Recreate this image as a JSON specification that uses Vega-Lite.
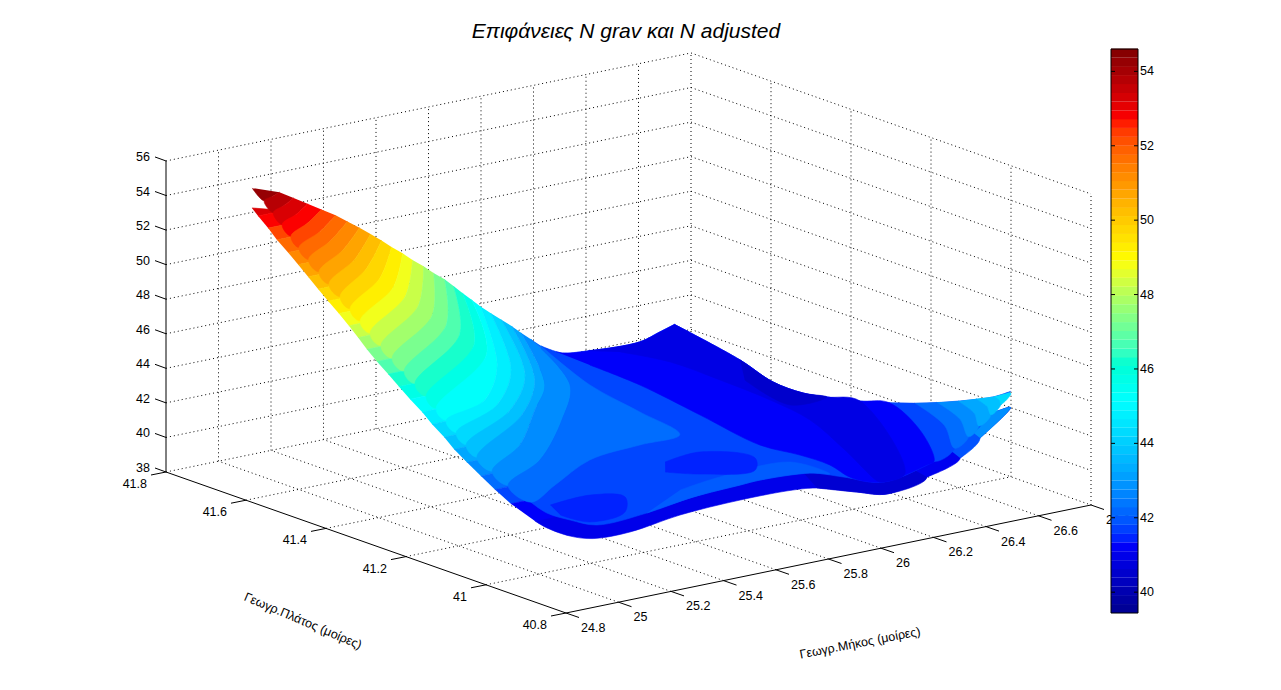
{"$schema":"https://vega.github.io/schema/vega-lite/v6.json","width":1281,"height":690,"padding":0,"autosize":{"type":"fit","contains":"padding"},"background":"white","config":{"view":{"stroke":null},"text":{"font":"Liberation Sans","fontSize":12.5,"color":"black"}},
"data":{"values":[
{"k":"grid","p":"n38","i":0,"lat":41.8,"lon":24.8,"n":38},{"k":"grid","p":"n38","i":1,"lat":41.8,"lon":26.8,"n":38},{"k":"grid","p":"n38","i":2,"lat":40.8,"lon":26.8,"n":38},
{"k":"grid","p":"n40","i":0,"lat":41.8,"lon":24.8,"n":40},{"k":"grid","p":"n40","i":1,"lat":41.8,"lon":26.8,"n":40},{"k":"grid","p":"n40","i":2,"lat":40.8,"lon":26.8,"n":40},
{"k":"grid","p":"n42","i":0,"lat":41.8,"lon":24.8,"n":42},{"k":"grid","p":"n42","i":1,"lat":41.8,"lon":26.8,"n":42},{"k":"grid","p":"n42","i":2,"lat":40.8,"lon":26.8,"n":42},
{"k":"grid","p":"n44","i":0,"lat":41.8,"lon":24.8,"n":44},{"k":"grid","p":"n44","i":1,"lat":41.8,"lon":26.8,"n":44},{"k":"grid","p":"n44","i":2,"lat":40.8,"lon":26.8,"n":44},
{"k":"grid","p":"n46","i":0,"lat":41.8,"lon":24.8,"n":46},{"k":"grid","p":"n46","i":1,"lat":41.8,"lon":26.8,"n":46},{"k":"grid","p":"n46","i":2,"lat":40.8,"lon":26.8,"n":46},
{"k":"grid","p":"n48","i":0,"lat":41.8,"lon":24.8,"n":48},{"k":"grid","p":"n48","i":1,"lat":41.8,"lon":26.8,"n":48},{"k":"grid","p":"n48","i":2,"lat":40.8,"lon":26.8,"n":48},
{"k":"grid","p":"n50","i":0,"lat":41.8,"lon":24.8,"n":50},{"k":"grid","p":"n50","i":1,"lat":41.8,"lon":26.8,"n":50},{"k":"grid","p":"n50","i":2,"lat":40.8,"lon":26.8,"n":50},
{"k":"grid","p":"n52","i":0,"lat":41.8,"lon":24.8,"n":52},{"k":"grid","p":"n52","i":1,"lat":41.8,"lon":26.8,"n":52},{"k":"grid","p":"n52","i":2,"lat":40.8,"lon":26.8,"n":52},
{"k":"grid","p":"n54","i":0,"lat":41.8,"lon":24.8,"n":54},{"k":"grid","p":"n54","i":1,"lat":41.8,"lon":26.8,"n":54},{"k":"grid","p":"n54","i":2,"lat":40.8,"lon":26.8,"n":54},
{"k":"grid","p":"n56","i":0,"lat":41.8,"lon":24.8,"n":56},{"k":"grid","p":"n56","i":1,"lat":41.8,"lon":26.8,"n":56},{"k":"grid","p":"n56","i":2,"lat":40.8,"lon":26.8,"n":56},
{"k":"grid","p":"o25","i":0,"lat":40.8,"lon":25,"n":38},{"k":"grid","p":"o25","i":1,"lat":41.8,"lon":25,"n":38},{"k":"grid","p":"o25","i":2,"lat":41.8,"lon":25,"n":56},
{"k":"grid","p":"o25.2","i":0,"lat":40.8,"lon":25.2,"n":38},{"k":"grid","p":"o25.2","i":1,"lat":41.8,"lon":25.2,"n":38},{"k":"grid","p":"o25.2","i":2,"lat":41.8,"lon":25.2,"n":56},
{"k":"grid","p":"o25.4","i":0,"lat":40.8,"lon":25.4,"n":38},{"k":"grid","p":"o25.4","i":1,"lat":41.8,"lon":25.4,"n":38},{"k":"grid","p":"o25.4","i":2,"lat":41.8,"lon":25.4,"n":56},
{"k":"grid","p":"o25.6","i":0,"lat":40.8,"lon":25.6,"n":38},{"k":"grid","p":"o25.6","i":1,"lat":41.8,"lon":25.6,"n":38},{"k":"grid","p":"o25.6","i":2,"lat":41.8,"lon":25.6,"n":56},
{"k":"grid","p":"o25.8","i":0,"lat":40.8,"lon":25.8,"n":38},{"k":"grid","p":"o25.8","i":1,"lat":41.8,"lon":25.8,"n":38},{"k":"grid","p":"o25.8","i":2,"lat":41.8,"lon":25.8,"n":56},
{"k":"grid","p":"o26","i":0,"lat":40.8,"lon":26,"n":38},{"k":"grid","p":"o26","i":1,"lat":41.8,"lon":26,"n":38},{"k":"grid","p":"o26","i":2,"lat":41.8,"lon":26,"n":56},
{"k":"grid","p":"o26.2","i":0,"lat":40.8,"lon":26.2,"n":38},{"k":"grid","p":"o26.2","i":1,"lat":41.8,"lon":26.2,"n":38},{"k":"grid","p":"o26.2","i":2,"lat":41.8,"lon":26.2,"n":56},
{"k":"grid","p":"o26.4","i":0,"lat":40.8,"lon":26.4,"n":38},{"k":"grid","p":"o26.4","i":1,"lat":41.8,"lon":26.4,"n":38},{"k":"grid","p":"o26.4","i":2,"lat":41.8,"lon":26.4,"n":56},
{"k":"grid","p":"o26.6","i":0,"lat":40.8,"lon":26.6,"n":38},{"k":"grid","p":"o26.6","i":1,"lat":41.8,"lon":26.6,"n":38},{"k":"grid","p":"o26.6","i":2,"lat":41.8,"lon":26.6,"n":56},
{"k":"grid","p":"o26.8","i":0,"lat":41.8,"lon":26.8,"n":38},{"k":"grid","p":"o26.8","i":1,"lat":41.8,"lon":26.8,"n":56},
{"k":"grid","p":"a41","i":0,"lat":41,"lon":24.8,"n":38},{"k":"grid","p":"a41","i":1,"lat":41,"lon":26.8,"n":38},{"k":"grid","p":"a41","i":2,"lat":41,"lon":26.8,"n":56},
{"k":"grid","p":"a41.2","i":0,"lat":41.2,"lon":24.8,"n":38},{"k":"grid","p":"a41.2","i":1,"lat":41.2,"lon":26.8,"n":38},{"k":"grid","p":"a41.2","i":2,"lat":41.2,"lon":26.8,"n":56},
{"k":"grid","p":"a41.4","i":0,"lat":41.4,"lon":24.8,"n":38},{"k":"grid","p":"a41.4","i":1,"lat":41.4,"lon":26.8,"n":38},{"k":"grid","p":"a41.4","i":2,"lat":41.4,"lon":26.8,"n":56},
{"k":"grid","p":"a41.6","i":0,"lat":41.6,"lon":24.8,"n":38},{"k":"grid","p":"a41.6","i":1,"lat":41.6,"lon":26.8,"n":38},{"k":"grid","p":"a41.6","i":2,"lat":41.6,"lon":26.8,"n":56},
{"k":"grid","p":"a40.8","i":0,"lat":40.8,"lon":26.8,"n":38},{"k":"grid","p":"a40.8","i":1,"lat":40.8,"lon":26.8,"n":56},
{"k":"axis","p":"z","i":0,"lat":41.8,"lon":24.8,"n":38},{"k":"axis","p":"z","i":1,"lat":41.8,"lon":24.8,"n":56},
{"k":"axis","p":"la","i":0,"lat":41.8,"lon":24.8,"n":38},{"k":"axis","p":"la","i":1,"lat":40.8,"lon":24.8,"n":38},
{"k":"axis","p":"lo","i":0,"lat":40.8,"lon":24.8,"n":38},{"k":"axis","p":"lo","i":1,"lat":40.8,"lon":26.8,"n":38},
{"k":"tz","lat":41.8,"lon":24.8,"n":38,"t":"38"},{"k":"tz","lat":41.8,"lon":24.8,"n":40,"t":"40"},{"k":"tz","lat":41.8,"lon":24.8,"n":42,"t":"42"},{"k":"tz","lat":41.8,"lon":24.8,"n":44,"t":"44"},{"k":"tz","lat":41.8,"lon":24.8,"n":46,"t":"46"},{"k":"tz","lat":41.8,"lon":24.8,"n":48,"t":"48"},{"k":"tz","lat":41.8,"lon":24.8,"n":50,"t":"50"},{"k":"tz","lat":41.8,"lon":24.8,"n":52,"t":"52"},{"k":"tz","lat":41.8,"lon":24.8,"n":54,"t":"54"},{"k":"tz","lat":41.8,"lon":24.8,"n":56,"t":"56"},
{"k":"tl","lat":41.8,"lon":24.8,"n":38,"t":"41.8"},{"k":"tl","lat":41.6,"lon":24.8,"n":38,"t":"41.6"},{"k":"tl","lat":41.4,"lon":24.8,"n":38,"t":"41.4"},{"k":"tl","lat":41.2,"lon":24.8,"n":38,"t":"41.2"},{"k":"tl","lat":41,"lon":24.8,"n":38,"t":"41"},{"k":"tl","lat":40.8,"lon":24.8,"n":38,"t":"40.8"},
{"k":"to","lat":40.8,"lon":24.8,"n":38,"t":"24.8"},{"k":"to","lat":40.8,"lon":25,"n":38,"t":"25"},{"k":"to","lat":40.8,"lon":25.2,"n":38,"t":"25.2"},{"k":"to","lat":40.8,"lon":25.4,"n":38,"t":"25.4"},{"k":"to","lat":40.8,"lon":25.6,"n":38,"t":"25.6"},{"k":"to","lat":40.8,"lon":25.8,"n":38,"t":"25.8"},{"k":"to","lat":40.8,"lon":26,"n":38,"t":"26"},{"k":"to","lat":40.8,"lon":26.2,"n":38,"t":"26.2"},{"k":"to","lat":40.8,"lon":26.4,"n":38,"t":"26.4"},{"k":"to","lat":40.8,"lon":26.6,"n":38,"t":"26.6"},{"k":"to","lat":40.8,"lon":26.8,"n":38,"t":"26.8"},
{"k":"title","lat":41.8,"lon":26.8,"n":56,"t":"Επιφάνειες N grav και N adjusted"},
{"k":"tlat","lat":41.3,"lon":24.8,"n":38,"t":"Γεωγρ.Πλάτος (μοίρες)"},
{"k":"tlon","lat":40.8,"lon":25.8,"n":38,"t":"Γεωγρ.Μήκος (μοίρες)"},
{"k":"B","p":1,"v":41,"i":0,"lat":41.009,"lon":25,"n":41},{"k":"B","p":1,"v":41,"i":1,"lat":40.979,"lon":25,"n":40.84},{"k":"B","p":1,"v":41,"i":1.5,"lat":40.921,"lon":25,"n":40.84},{"k":"B","p":1,"v":41,"i":2,"lat":40.87,"lon":25.01,"n":41.08},{"k":"B","p":1,"v":41,"i":3,"lat":40.87,"lon":25.15,"n":41.02},{"k":"B","p":1,"v":41,"i":4,"lat":40.87,"lon":25.341,"n":41.41},{"k":"B","p":1,"v":41,"i":5,"lat":40.87,"lon":25.57,"n":41.56},{"k":"B","p":1,"v":41,"i":6,"lat":40.87,"lon":25.771,"n":41.51},{"k":"B","p":1,"v":41,"i":7,"lat":40.87,"lon":25.863,"n":41.34},{"k":"B","p":1,"v":41,"i":8,"lat":40.87,"lon":26.015,"n":40.63},{"k":"B","p":1,"v":41,"i":9,"lat":40.87,"lon":26.13,"n":40.16},{"k":"B","p":1,"v":41,"i":10,"lat":40.87,"lon":26.282,"n":40.67},{"k":"B","p":1,"v":41,"i":11,"lat":40.87,"lon":26.408,"n":41.37},{"k":"B","p":1,"v":41,"i":12,"lat":40.87,"lon":26.484,"n":42.29},{"k":"B","p":1,"v":41,"i":13,"lat":40.87,"lon":26.6,"n":43.7},{"k":"B","p":1,"v":41,"i":14,"lat":40.914,"lon":26.6,"n":43.08},{"k":"B","p":1,"v":41,"i":15,"lat":40.95,"lon":26.484,"n":43.1},{"k":"B","p":1,"v":41,"i":16,"lat":40.95,"lon":25.9,"n":42},{"k":"B","p":1,"v":41,"i":17,"lat":41.05,"lon":25.15,"n":42},
{"k":"B","p":2,"v":40.6,"i":0,"lat":40.87,"lon":25.863,"n":41.34},{"k":"B","p":2,"v":40.6,"i":1,"lat":40.87,"lon":26.015,"n":40.63},{"k":"B","p":2,"v":40.6,"i":2,"lat":40.87,"lon":26.13,"n":40.16},{"k":"B","p":2,"v":40.6,"i":3,"lat":40.87,"lon":26.282,"n":40.67},{"k":"B","p":2,"v":40.6,"i":4,"lat":40.95,"lon":26.2,"n":42},{"k":"B","p":2,"v":40.6,"i":5,"lat":40.95,"lon":25.9,"n":42},
{"k":"B","p":3,"v":41.1,"i":0,"lat":40.87,"lon":26.282,"n":40.67},{"k":"B","p":3,"v":41.1,"i":1,"lat":40.87,"lon":26.408,"n":41.37},{"k":"B","p":3,"v":41.1,"i":2,"lat":40.95,"lon":26.35,"n":42.3},{"k":"B","p":3,"v":41.1,"i":3,"lat":40.95,"lon":26.2,"n":42},
{"k":"B","p":4,"v":41.9,"i":0,"lat":40.87,"lon":26.408,"n":41.37},{"k":"B","p":4,"v":41.9,"i":1,"lat":40.87,"lon":26.484,"n":42.29},{"k":"B","p":4,"v":41.9,"i":2,"lat":40.95,"lon":26.484,"n":43.1},{"k":"B","p":4,"v":41.9,"i":3,"lat":40.95,"lon":26.408,"n":42.2},
{"k":"B","p":5,"v":42.8,"i":0,"lat":40.87,"lon":26.484,"n":42.29},{"k":"B","p":5,"v":42.8,"i":1,"lat":40.87,"lon":26.6,"n":43.7},{"k":"B","p":5,"v":42.8,"i":2,"lat":40.914,"lon":26.6,"n":43.08},{"k":"B","p":5,"v":42.8,"i":3,"lat":40.95,"lon":26.484,"n":43.1},
{"k":"A","n":53.5,"i":0,"lat":41.704,"lon":24.981},{"k":"A","n":53.5,"i":1,"lat":41.704,"lon":24.981},
{"k":"A","n":53,"i":0,"lat":41.701,"lon":25},{"k":"A","n":53,"i":1,"lat":41.701,"lon":25.1},
{"k":"A","n":52.5,"i":0,"lat":41.676,"lon":25},{"k":"A","n":52.5,"i":1,"lat":41.676,"lon":25.1},
{"k":"A","n":52,"i":0,"lat":41.654,"lon":25},{"k":"A","n":52,"i":1,"lat":41.654,"lon":25.1},
{"k":"A","n":51.5,"i":0,"lat":41.626,"lon":25},{"k":"A","n":51.5,"i":1,"lat":41.626,"lon":25.1},
{"k":"A","n":51,"i":0,"lat":41.601,"lon":25},{"k":"A","n":51,"i":1,"lat":41.601,"lon":25.1},
{"k":"A","n":50.5,"i":0,"lat":41.576,"lon":25},{"k":"A","n":50.5,"i":1,"lat":41.576,"lon":25.1},
{"k":"A","n":50,"i":0,"lat":41.551,"lon":25},{"k":"A","n":50,"i":1,"lat":41.551,"lon":25.1},
{"k":"A","n":49.5,"i":0,"lat":41.526,"lon":25},{"k":"A","n":49.5,"i":1,"lat":41.526,"lon":25.1},
{"k":"A","n":49,"i":0,"lat":41.499,"lon":25},{"k":"A","n":49,"i":1,"lat":41.499,"lon":25.1},
{"k":"A","n":48.5,"i":0,"lat":41.474,"lon":25},{"k":"A","n":48.5,"i":1,"lat":41.474,"lon":25.1},
{"k":"A","n":48,"i":0,"lat":41.451,"lon":25},{"k":"A","n":48,"i":1,"lat":41.451,"lon":25.1},
{"k":"A","n":47.5,"i":0,"lat":41.429,"lon":25},{"k":"A","n":47.5,"i":1,"lat":41.429,"lon":25.1},
{"k":"A","n":47,"i":0,"lat":41.404,"lon":25},{"k":"A","n":47,"i":1,"lat":41.404,"lon":25.1},
{"k":"A","n":46.5,"i":0,"lat":41.376,"lon":25},{"k":"A","n":46.5,"i":1,"lat":41.376,"lon":25.1},
{"k":"A","n":46,"i":0,"lat":41.349,"lon":25},{"k":"A","n":46,"i":1,"lat":41.349,"lon":25.1},
{"k":"A","n":45.5,"i":0,"lat":41.321,"lon":25},{"k":"A","n":45.5,"i":1,"lat":41.321,"lon":25.1},
{"k":"A","n":45,"i":0,"lat":41.291,"lon":25},{"k":"A","n":45,"i":1,"lat":41.291,"lon":25.1},
{"k":"A","n":44.5,"i":0,"lat":41.266,"lon":25},{"k":"A","n":44.5,"i":1,"lat":41.266,"lon":25.1},
{"k":"A","n":44,"i":0,"lat":41.236,"lon":25},{"k":"A","n":44,"i":1,"lat":41.236,"lon":25.1},
{"k":"A","n":43.5,"i":0,"lat":41.211,"lon":25},{"k":"A","n":43.5,"i":1,"lat":41.211,"lon":25.1},
{"k":"A","n":43,"i":0,"lat":41.179,"lon":25},{"k":"A","n":43,"i":1,"lat":41.179,"lon":25.1},
{"k":"A","n":42.5,"i":0,"lat":41.144,"lon":25},{"k":"A","n":42.5,"i":1,"lat":41.144,"lon":25.1},
{"k":"A","n":42,"i":0,"lat":41.109,"lon":25},{"k":"A","n":42,"i":1,"lat":41.109,"lon":25.1},
{"k":"A","n":41.5,"i":0,"lat":41.069,"lon":25},{"k":"A","n":41.5,"i":1,"lat":41.069,"lon":25.1},
{"k":"A","n":41,"i":0,"lat":41.009,"lon":25},{"k":"A","n":41,"i":1,"lat":41.009,"lon":25.1},
{"k":"S","p":0,"v":41.75,"i":0,"lat":41.71,"lon":26.091,"n":42},{"k":"S","p":0,"v":41.75,"i":1,"lat":41.71,"lon":26.173,"n":41.33},{"k":"S","p":0,"v":41.75,"i":2,"lat":41.71,"lon":26.269,"n":41.15},{"k":"S","p":0,"v":41.75,"i":3,"lat":41.71,"lon":26.467,"n":41.05},{"k":"S","p":0,"v":41.75,"i":4,"lat":41.71,"lon":26.543,"n":41.39},{"k":"S","p":0,"v":41.75,"i":5,"lat":41.71,"lon":26.6,"n":41.65},{"k":"S","p":0,"v":41.75,"i":5.5,"lat":41.71,"lon":26.6,"n":41.65},
{"k":"S","p":0,"v":41.75,"i":6,"lat":41.546,"lon":26.6,"n":40.93},{"k":"S","p":0,"v":41.75,"i":7,"lat":41.464,"lon":26.6,"n":40.33},{"k":"S","p":0,"v":41.75,"i":8,"lat":41.389,"lon":26.6,"n":40.3},{"k":"S","p":0,"v":41.75,"i":9,"lat":41.329,"lon":26.6,"n":40.56},{"k":"S","p":0,"v":41.75,"i":10,"lat":41.246,"lon":26.6,"n":41},{"k":"S","p":0,"v":41.75,"i":11,"lat":41.164,"lon":26.6,"n":41.56},{"k":"S","p":0,"v":41.75,"i":12,"lat":41.079,"lon":26.6,"n":42.25},{"k":"S","p":0,"v":41.75,"i":13,"lat":40.996,"lon":26.6,"n":43.05},{"k":"S","p":0,"v":41.75,"i":14,"lat":40.914,"lon":26.6,"n":43.95},{"k":"S","p":0,"v":41.75,"i":15,"lat":40.87,"lon":26.6,"n":44.63},{"k":"S","p":0,"v":41.75,"i":15.5,"lat":40.87,"lon":26.6,"n":44.63},
{"k":"S","p":0,"v":41.75,"i":16,"lat":40.87,"lon":26.533,"n":43.58},{"k":"S","p":0,"v":41.75,"i":17,"lat":40.87,"lon":26.457,"n":42.66},{"k":"S","p":0,"v":41.75,"i":18,"lat":40.87,"lon":26.37,"n":41.84},{"k":"S","p":0,"v":41.75,"i":19,"lat":40.87,"lon":26.282,"n":41.36},{"k":"S","p":0,"v":41.75,"i":20,"lat":40.87,"lon":26.114,"n":40.9},{"k":"S","p":0,"v":41.75,"i":21,"lat":40.87,"lon":25.962,"n":41.67},{"k":"S","p":0,"v":41.75,"i":22,"lat":40.87,"lon":25.836,"n":42.29},{"k":"S","p":0,"v":41.75,"i":23,"lat":40.87,"lon":25.646,"n":42.48},{"k":"S","p":0,"v":41.75,"i":24,"lat":40.87,"lon":25.57,"n":42.43},{"k":"S","p":0,"v":41.75,"i":25,"lat":40.87,"lon":25.39,"n":42.29},{"k":"S","p":0,"v":41.75,"i":26,"lat":40.87,"lon":25.215,"n":41.92},{"k":"S","p":0,"v":41.75,"i":27,"lat":40.87,"lon":25.025,"n":41.82},{"k":"S","p":0,"v":41.75,"i":27.5,"lat":40.921,"lon":25,"n":41.77},{"k":"S","p":0,"v":41.75,"i":28,"lat":40.979,"lon":25,"n":41.7},{"k":"S","p":0,"v":41.75,"i":29,"lat":41.019,"lon":25,"n":42},
{"k":"T","n":54.5,"i":0,"lat":41.716,"lon":25},{"k":"T","n":54.5,"i":9,"lat":41.716,"lon":25},
{"k":"T","n":54,"i":0,"lat":41.71,"lon":25.095},{"k":"T","n":54,"i":1,"lat":41.698,"lon":25.05},{"k":"T","n":54,"i":9,"lat":41.686,"lon":25},
{"k":"T","n":53.5,"i":0,"lat":41.71,"lon":25.149},{"k":"T","n":53.5,"i":1,"lat":41.686,"lon":25.077},{"k":"T","n":53.5,"i":9,"lat":41.663,"lon":25},
{"k":"T","n":53,"i":0,"lat":41.71,"lon":25.202},{"k":"T","n":53,"i":1,"lat":41.674,"lon":25.106},{"k":"T","n":53,"i":9,"lat":41.641,"lon":25},
{"k":"T","n":52.5,"i":0,"lat":41.71,"lon":25.255},{"k":"T","n":52.5,"i":1,"lat":41.663,"lon":25.132},{"k":"T","n":52.5,"i":9,"lat":41.619,"lon":25},
{"k":"T","n":52,"i":0,"lat":41.71,"lon":25.309},{"k":"T","n":52,"i":1,"lat":41.652,"lon":25.162},{"k":"T","n":52,"i":9,"lat":41.599,"lon":25},
{"k":"T","n":51.5,"i":0,"lat":41.71,"lon":25.354},{"k":"T","n":51.5,"i":1,"lat":41.64,"lon":25.184},{"k":"T","n":51.5,"i":9,"lat":41.575,"lon":25},
{"k":"T","n":51,"i":0,"lat":41.71,"lon":25.4},{"k":"T","n":51,"i":1,"lat":41.626,"lon":25.21},{"k":"T","n":51,"i":9,"lat":41.549,"lon":25},
{"k":"T","n":50.5,"i":0,"lat":41.71,"lon":25.442},{"k":"T","n":50.5,"i":1,"lat":41.612,"lon":25.233},{"k":"T","n":50.5,"i":9,"lat":41.524,"lon":25},
{"k":"T","n":50,"i":0,"lat":41.71,"lon":25.484},{"k":"T","n":50,"i":1,"lat":41.598,"lon":25.256},{"k":"T","n":50,"i":9,"lat":41.496,"lon":25},
{"k":"T","n":49.5,"i":0,"lat":41.71,"lon":25.522},{"k":"T","n":49.5,"i":1,"lat":41.582,"lon":25.283},{"k":"T","n":49.5,"i":9,"lat":41.471,"lon":25},
{"k":"T","n":49,"i":0,"lat":41.71,"lon":25.564},{"k":"T","n":49,"i":1,"lat":41.567,"lon":25.311},{"k":"T","n":49,"i":9,"lat":41.446,"lon":25},
{"k":"T","n":48.5,"i":0,"lat":41.71,"lon":25.602},{"k":"T","n":48.5,"i":1,"lat":41.553,"lon":25.335},{"k":"T","n":48.5,"i":9,"lat":41.421,"lon":25},
{"k":"T","n":48,"i":0,"lat":41.71,"lon":25.644},{"k":"T","n":48,"i":1,"lat":41.537,"lon":25.36},{"k":"T","n":48,"i":9,"lat":41.394,"lon":25},
{"k":"T","n":47.5,"i":0,"lat":41.71,"lon":25.682},{"k":"T","n":47.5,"i":1,"lat":41.52,"lon":25.387},{"k":"T","n":47.5,"i":9,"lat":41.366,"lon":25},
{"k":"T","n":47,"i":0,"lat":41.71,"lon":25.724},{"k":"T","n":47,"i":1,"lat":41.503,"lon":25.415},{"k":"T","n":47,"i":9,"lat":41.336,"lon":25},
{"k":"T","n":46.5,"i":0,"lat":41.71,"lon":25.758},{"k":"T","n":46.5,"i":1,"lat":41.486,"lon":25.44},{"k":"T","n":46.5,"i":9,"lat":41.309,"lon":25},
{"k":"T","n":46,"i":0,"lat":41.71,"lon":25.792},{"k":"T","n":46,"i":1,"lat":41.468,"lon":25.468},{"k":"T","n":46,"i":9,"lat":41.281,"lon":25},
{"k":"T","n":45.5,"i":0,"lat":41.71,"lon":25.827},{"k":"T","n":45.5,"i":1,"lat":41.453,"lon":25.493},{"k":"T","n":45.5,"i":9,"lat":41.256,"lon":25},
{"k":"T","n":45,"i":0,"lat":41.71,"lon":25.861},{"k":"T","n":45,"i":1,"lat":41.432,"lon":25.501},{"k":"T","n":45,"i":2,"lat":41.287,"lon":25.233},{"k":"T","n":45,"i":9,"lat":41.231,"lon":25},
{"k":"T","n":44.5,"i":0,"lat":41.71,"lon":25.899},{"k":"T","n":44.5,"i":1,"lat":41.436,"lon":25.56},{"k":"T","n":44.5,"i":2,"lat":41.292,"lon":25.287},{"k":"T","n":44.5,"i":9,"lat":41.206,"lon":25},
{"k":"T","n":44,"i":0,"lat":41.71,"lon":25.939},{"k":"T","n":44,"i":1,"lat":41.439,"lon":25.618},{"k":"T","n":44,"i":2,"lat":41.296,"lon":25.343},{"k":"T","n":44,"i":9,"lat":41.181,"lon":25},
{"k":"T","n":43.5,"i":0,"lat":41.71,"lon":25.979},{"k":"T","n":43.5,"i":1,"lat":41.447,"lon":25.667},{"k":"T","n":43.5,"i":2,"lat":41.302,"lon":25.397},{"k":"T","n":43.5,"i":9,"lat":41.154,"lon":25},
{"k":"T","n":43,"i":0,"lat":41.71,"lon":26.015},{"k":"T","n":43,"i":1,"lat":41.454,"lon":25.716},{"k":"T","n":43,"i":2,"lat":41.351,"lon":25.521},{"k":"T","n":43,"i":3,"lat":41.208,"lon":25.246},{"k":"T","n":43,"i":9,"lat":41.116,"lon":25},
{"k":"T","n":42.5,"i":0,"lat":41.71,"lon":26.053},{"k":"T","n":42.5,"i":1,"lat":41.469,"lon":25.835},{"k":"T","n":42.5,"i":2,"lat":41.32,"lon":25.577},{"k":"T","n":42.5,"i":3,"lat":41.161,"lon":25.251},{"k":"T","n":42.5,"i":9,"lat":41.076,"lon":25},
{"k":"T","n":42,"i":0,"lat":41.71,"lon":26.091},{"k":"T","n":42,"i":1,"lat":41.49,"lon":25.942},{"k":"T","n":42,"i":2,"lat":41.323,"lon":25.878},{"k":"T","n":42,"i":3,"lat":41.185,"lon":25.82},{"k":"T","n":42,"i":4,"lat":41.175,"lon":25.653},{"k":"T","n":42,"i":5,"lat":41.154,"lon":25.43},{"k":"T","n":42,"i":6,"lat":41.074,"lon":25.176},{"k":"T","n":42,"i":9,"lat":41.019,"lon":25},
{"k":"E","n":41.5,"i":0,"lat":41.174,"lon":26.6},{"k":"E","n":41.5,"i":5,"lat":41.013,"lon":26.478},{"k":"E","n":41.5,"i":9,"lat":40.87,"lon":26.309},
{"k":"E","n":42,"i":0,"lat":41.109,"lon":26.6},{"k":"E","n":42,"i":5,"lat":40.981,"lon":26.518},{"k":"E","n":42,"i":9,"lat":40.87,"lon":26.387},
{"k":"E","n":42.5,"i":0,"lat":41.054,"lon":26.6},{"k":"E","n":42.5,"i":5,"lat":40.955,"lon":26.538},{"k":"E","n":42.5,"i":9,"lat":40.87,"lon":26.44},
{"k":"E","n":43,"i":0,"lat":41.001,"lon":26.6},{"k":"E","n":43,"i":5,"lat":40.93,"lon":26.554},{"k":"E","n":43,"i":9,"lat":40.87,"lon":26.48},
{"k":"E","n":43.5,"i":0,"lat":40.956,"lon":26.6},{"k":"E","n":43.5,"i":5,"lat":40.91,"lon":26.572},{"k":"E","n":43.5,"i":9,"lat":40.87,"lon":26.526},
{"k":"E","n":44,"i":0,"lat":40.911,"lon":26.6},{"k":"E","n":44,"i":5,"lat":40.888,"lon":26.586},{"k":"E","n":44,"i":9,"lat":40.87,"lon":26.564},
{"k":"E","n":44.5,"i":0,"lat":40.876,"lon":26.6},{"k":"E","n":44.5,"i":9,"lat":40.87,"lon":26.602},
{"k":"V","p":6,"v":42,"i":0,"lat":40.87,"lon":25.215,"n":41.92},{"k":"V","p":6,"v":42,"i":1,"lat":40.87,"lon":25.39,"n":42.29},{"k":"V","p":6,"v":42,"i":2,"lat":40.87,"lon":25.57,"n":42.43},{"k":"V","p":6,"v":42,"i":3,"lat":40.87,"lon":25.646,"n":42.48},{"k":"V","p":6,"v":42,"i":4,"lat":40.87,"lon":25.836,"n":42.29},{"k":"V","p":6,"v":42,"i":5,"lat":40.87,"lon":25.912,"n":42},{"k":"V","p":6,"v":42,"i":6,"lat":40.96,"lon":25.898,"n":42},{"k":"V","p":6,"v":42,"i":7,"lat":40.958,"lon":25.627,"n":42},{"k":"V","p":6,"v":42,"i":8,"lat":40.936,"lon":25.442,"n":42},
{"k":"V","p":1,"v":41.25,"i":0,"lat":41.71,"lon":26.147,"n":41.5},{"k":"V","p":1,"v":41.25,"i":1,"lat":41.71,"lon":26.173,"n":41.33},{"k":"V","p":1,"v":41.25,"i":2,"lat":41.71,"lon":26.269,"n":41.15},{"k":"V","p":1,"v":41.25,"i":3,"lat":41.71,"lon":26.467,"n":41.05},{"k":"V","p":1,"v":41.25,"i":4,"lat":41.71,"lon":26.543,"n":41.39},{"k":"V","p":1,"v":41.25,"i":5,"lat":41.71,"lon":26.6,"n":41.65},{"k":"V","p":1,"v":41.25,"i":5.5,"lat":41.71,"lon":26.6,"n":41.65},{"k":"V","p":1,"v":41.25,"i":6,"lat":41.546,"lon":26.6,"n":40.93},{"k":"V","p":1,"v":41.25,"i":7,"lat":41.464,"lon":26.6,"n":40.33},{"k":"V","p":1,"v":41.25,"i":8,"lat":41.389,"lon":26.6,"n":40.3},{"k":"V","p":1,"v":41.25,"i":9,"lat":41.329,"lon":26.6,"n":40.56},{"k":"V","p":1,"v":41.25,"i":10,"lat":41.246,"lon":26.6,"n":41},{"k":"V","p":1,"v":41.25,"i":11,"lat":41.174,"lon":26.6,"n":41.5},{"k":"V","p":1,"v":41.25,"i":12,"lat":41.013,"lon":26.478,"n":41.5},{"k":"V","p":1,"v":41.25,"i":12.5,"lat":40.87,"lon":26.309,"n":41.5},{"k":"V","p":1,"v":41.25,"i":13,"lat":40.87,"lon":26.282,"n":41.36},{"k":"V","p":1,"v":41.25,"i":14,"lat":40.87,"lon":26.114,"n":40.9},{"k":"V","p":1,"v":41.25,"i":15,"lat":40.87,"lon":25.996,"n":41.5},{"k":"V","p":1,"v":41.25,"i":16,"lat":40.949,"lon":26.032,"n":41.5},{"k":"V","p":1,"v":41.25,"i":17,"lat":41.021,"lon":26.028,"n":41.5},{"k":"V","p":1,"v":41.25,"i":18,"lat":41.103,"lon":26,"n":41.5},{"k":"V","p":1,"v":41.25,"i":19,"lat":41.292,"lon":26.061,"n":41.5},{"k":"V","p":1,"v":41.25,"i":20,"lat":41.482,"lon":26.121,"n":41.5},{"k":"V","p":1,"v":41.25,"i":21,"lat":41.618,"lon":26.137,"n":41.5},
{"k":"V","p":2,"v":40.9,"i":0,"lat":41.71,"lon":26.269,"n":41.15},{"k":"V","p":2,"v":40.9,"i":1,"lat":41.71,"lon":26.467,"n":41.05},{"k":"V","p":2,"v":40.9,"i":2,"lat":41.71,"lon":26.6,"n":41.65},{"k":"V","p":2,"v":40.9,"i":2.5,"lat":41.71,"lon":26.6,"n":41.65},{"k":"V","p":2,"v":40.9,"i":3,"lat":41.546,"lon":26.6,"n":40.93},{"k":"V","p":2,"v":40.9,"i":4,"lat":41.464,"lon":26.6,"n":40.33},{"k":"V","p":2,"v":40.9,"i":5,"lat":41.389,"lon":26.6,"n":40.3},{"k":"V","p":2,"v":40.9,"i":6,"lat":41.329,"lon":26.6,"n":40.56},{"k":"V","p":2,"v":40.9,"i":7,"lat":41.246,"lon":26.6,"n":41},{"k":"V","p":2,"v":40.9,"i":8,"lat":40.87,"lon":26.198,"n":41.13},{"k":"V","p":2,"v":40.9,"i":9,"lat":40.87,"lon":26.114,"n":40.9},{"k":"V","p":2,"v":40.9,"i":10,"lat":40.87,"lon":26.095,"n":41},{"k":"V","p":2,"v":40.9,"i":11,"lat":41.041,"lon":26.23,"n":41},{"k":"V","p":2,"v":40.9,"i":12,"lat":41.208,"lon":26.351,"n":41},{"k":"V","p":2,"v":40.9,"i":13,"lat":41.334,"lon":26.391,"n":41},{"k":"V","p":2,"v":40.9,"i":14,"lat":41.47,"lon":26.407,"n":41},{"k":"V","p":2,"v":40.9,"i":15,"lat":41.596,"lon":26.41,"n":41},{"k":"V","p":2,"v":40.9,"i":16,"lat":41.687,"lon":26.358,"n":41},
{"k":"V","p":3,"v":40.5,"i":0,"lat":41.546,"lon":26.6,"n":40.93},{"k":"V","p":3,"v":40.5,"i":1,"lat":41.464,"lon":26.6,"n":40.33},{"k":"V","p":3,"v":40.5,"i":2,"lat":41.389,"lon":26.6,"n":40.3},{"k":"V","p":3,"v":40.5,"i":3,"lat":41.329,"lon":26.6,"n":40.56},{"k":"V","p":3,"v":40.5,"i":4,"lat":41.324,"lon":26.452,"n":40.6},{"k":"V","p":3,"v":40.5,"i":5,"lat":41.478,"lon":26.514,"n":40.6},
{"k":"V","p":4,"v":41.45,"i":0,"lat":41.114,"lon":25.656,"n":41.5},{"k":"V","p":4,"v":41.45,"i":1,"lat":41.127,"lon":25.808,"n":41.5},{"k":"V","p":4,"v":41.45,"i":2,"lat":41.049,"lon":25.9,"n":41.5},{"k":"V","p":4,"v":41.45,"i":3,"lat":40.995,"lon":25.818,"n":41.5},{"k":"V","p":4,"v":41.45,"i":4,"lat":41.028,"lon":25.658,"n":41.5},{"k":"V","p":4,"v":41.45,"i":5,"lat":41.069,"lon":25.588,"n":41.5},
{"k":"V","p":5,"v":41.45,"i":0,"lat":41.027,"lon":25.086,"n":41.5},{"k":"V","p":5,"v":41.45,"i":1,"lat":41.035,"lon":25.25,"n":41.5},{"k":"V","p":5,"v":41.45,"i":2,"lat":40.994,"lon":25.321,"n":41.5},{"k":"V","p":5,"v":41.45,"i":3,"lat":40.927,"lon":25.218,"n":41.5},{"k":"V","p":5,"v":41.45,"i":4,"lat":40.915,"lon":25.066,"n":41.5},{"k":"V","p":5,"v":41.45,"i":5,"lat":40.973,"lon":25.042,"n":41.5},
{"k":"cb","v":39.56},{"k":"cb","v":39.8},{"k":"cb","v":40.03},{"k":"cb","v":40.27},{"k":"cb","v":40.51},{"k":"cb","v":40.74},{"k":"cb","v":40.98},{"k":"cb","v":41.22},{"k":"cb","v":41.46},{"k":"cb","v":41.69},{"k":"cb","v":41.93},{"k":"cb","v":42.17},{"k":"cb","v":42.4},{"k":"cb","v":42.64},{"k":"cb","v":42.88},{"k":"cb","v":43.12},{"k":"cb","v":43.35},{"k":"cb","v":43.59},{"k":"cb","v":43.83},{"k":"cb","v":44.06},{"k":"cb","v":44.3},{"k":"cb","v":44.54},{"k":"cb","v":44.77},{"k":"cb","v":45.01},{"k":"cb","v":45.25},{"k":"cb","v":45.49},{"k":"cb","v":45.72},{"k":"cb","v":45.96},{"k":"cb","v":46.2},{"k":"cb","v":46.43},{"k":"cb","v":46.67},{"k":"cb","v":46.91},{"k":"cb","v":47.14},{"k":"cb","v":47.38},{"k":"cb","v":47.62},{"k":"cb","v":47.86},{"k":"cb","v":48.09},{"k":"cb","v":48.33},{"k":"cb","v":48.57},{"k":"cb","v":48.8},{"k":"cb","v":49.04},{"k":"cb","v":49.28},{"k":"cb","v":49.51},{"k":"cb","v":49.75},{"k":"cb","v":49.99},{"k":"cb","v":50.23},{"k":"cb","v":50.46},{"k":"cb","v":50.7},{"k":"cb","v":50.94},{"k":"cb","v":51.17},{"k":"cb","v":51.41},{"k":"cb","v":51.65},{"k":"cb","v":51.88},{"k":"cb","v":52.12},{"k":"cb","v":52.36},{"k":"cb","v":52.6},{"k":"cb","v":52.83},{"k":"cb","v":53.07},{"k":"cb","v":53.31},{"k":"cb","v":53.54},{"k":"cb","v":53.78},{"k":"cb","v":54.02},{"k":"cb","v":54.25},{"k":"cb","v":54.49},
{"k":"cbt","v":40,"t":"40"},{"k":"cbt","v":42,"t":"42"},{"k":"cbt","v":44,"t":"44"},{"k":"cbt","v":46,"t":"46"},{"k":"cbt","v":48,"t":"48"},{"k":"cbt","v":50,"t":"50"},{"k":"cbt","v":52,"t":"52"},{"k":"cbt","v":54,"t":"54"},
{"k":"cbf","v":39.44,"v2":54.6}
]},
"transform":[
{"calculate":"566-((datum.lat||40.8)-40.8)*400+((datum.lon||24.8)-24.8)*262.5","as":"sx"},
{"calculate":"613-((datum.lat||40.8)-40.8)*141-((datum.lon||24.8)-24.8)*54-((datum.n||38)-38)*17.28","as":"sy"},
{"calculate":"613-((datum.v||39.44)-39.44)*37.2","as":"by"}
],
"encoding":{"x":{"field":"sx","type":"quantitative","axis":null,"scale":{"domain":[0,1281],"nice":false,"zero":false}},"y":{"field":"sy","type":"quantitative","axis":null,"scale":{"domain":[690,0],"nice":false,"zero":false}}},
"layer":[
{"transform":[{"filter":"datum.k=='grid'"}],"mark":{"type":"line","stroke":"black","strokeWidth":1,"strokeDash":[1,3]},"encoding":{"detail":{"field":"p"},"order":{"field":"i","type":"quantitative"}}},
{"transform":[{"filter":"datum.k=='axis'"}],"mark":{"type":"line","stroke":"black","strokeWidth":1},"encoding":{"detail":{"field":"p"},"order":{"field":"i","type":"quantitative"}}},
{"transform":[{"filter":"datum.k=='tz'||datum.k=='tl'||datum.k=='to'"},{"calculate":"datum.sx+(datum.k=='tz'?-11:datum.k=='tl'?-15:13)","as":"tx"},{"calculate":"datum.sy+(datum.k=='tz'?-4:datum.k=='tl'?3:4.5)","as":"ty"}],"mark":{"type":"rule","stroke":"black","strokeWidth":1},"encoding":{"x2":{"field":"tx"},"y2":{"field":"ty"}}},
{"transform":[{"filter":"datum.k=='tz'"}],"mark":{"type":"text","align":"right","baseline":"middle","dx":-16,"dy":-4},"encoding":{"text":{"field":"t"}}},
{"transform":[{"filter":"datum.k=='tl'"}],"mark":{"type":"text","align":"right","baseline":"middle","dx":-19,"dy":12},"encoding":{"text":{"field":"t"}}},
{"transform":[{"filter":"datum.k=='to'"}],"mark":{"type":"text","align":"left","baseline":"middle","dx":15,"dy":15},"encoding":{"text":{"field":"t"}}},
{"transform":[{"filter":"datum.k=='title'"}],"mark":{"type":"text","align":"center","baseline":"middle","dx":-65,"dy":-21,"fontSize":21,"fontStyle":"italic"},"encoding":{"text":{"field":"t"}}},
{"transform":[{"filter":"datum.k=='tlat'"},{"calculate":"datum.sx-63","as":"ax"},{"calculate":"datum.sy+78.5","as":"ay"}],"mark":{"type":"text","align":"center","baseline":"middle","angle":23,"fontSize":12.5},"encoding":{"x":{"field":"ax","type":"quantitative"},"y":{"field":"ay","type":"quantitative"},"text":{"field":"t"}}},
{"transform":[{"filter":"datum.k=='tlon'"},{"calculate":"datum.sx+31.5","as":"ax"},{"calculate":"datum.sy+84","as":"ay"}],"mark":{"type":"text","align":"center","baseline":"middle","angle":-11,"fontSize":12.5},"encoding":{"x":{"field":"ax","type":"quantitative"},"y":{"field":"ay","type":"quantitative"},"text":{"field":"t"}}},
{"transform":[{"filter":"datum.k=='B'"}],"mark":{"type":"line","strokeWidth":0.6,"interpolate":"catmull-rom"},"encoding":{"detail":{"field":"p"},"order":{"field":"i","type":"quantitative"},"fill":{"field":"v","type":"quantitative","legend":null,"scale":{"domain":[39.44,41.335,45.125,48.915,52.705,54.6],"range":["#00008f","#0000ff","#00ffff","#ffff00","#ff0000","#800000"]}},"stroke":{"field":"v","type":"quantitative","legend":null,"scale":{"domain":[39.44,41.335,45.125,48.915,52.705,54.6],"range":["#00008f","#0000ff","#00ffff","#ffff00","#ff0000","#800000"]}}}},
{"transform":[{"filter":"datum.k=='A'"},{"calculate":"[datum.n,datum.n+0.5]","as":"bs"},{"flatten":["bs"],"as":["b"]},{"joinaggregate":[{"op":"distinct","field":"n","as":"c"}],"groupby":["k","b"]},{"filter":"datum.c==2"},{"calculate":"datum.b==datum.n?100-datum.i:datum.i","as":"o"},{"calculate":"datum.b-0.25","as":"w"}],"mark":{"type":"line","strokeWidth":0.6},"encoding":{"detail":[{"field":"k"},{"field":"b"}],"order":{"field":"o","type":"quantitative"},"fill":{"field":"w","type":"quantitative","legend":null,"scale":{"domain":[39.44,41.335,45.125,48.915,52.705,54.6],"range":["#00008f","#0000ff","#00ffff","#ffff00","#ff0000","#800000"]}},"stroke":{"field":"w","type":"quantitative","legend":null,"scale":{"domain":[39.44,41.335,45.125,48.915,52.705,54.6],"range":["#00008f","#0000ff","#00ffff","#ffff00","#ff0000","#800000"]}}}},
{"transform":[{"filter":"datum.k=='S'"}],"mark":{"type":"line","strokeWidth":0.6,"interpolate":"catmull-rom"},"encoding":{"detail":{"field":"p"},"order":{"field":"i","type":"quantitative"},"fill":{"field":"v","type":"quantitative","legend":null,"scale":{"domain":[39.44,41.335,45.125,48.915,52.705,54.6],"range":["#00008f","#0000ff","#00ffff","#ffff00","#ff0000","#800000"]}},"stroke":{"field":"v","type":"quantitative","legend":null,"scale":{"domain":[39.44,41.335,45.125,48.915,52.705,54.6],"range":["#00008f","#0000ff","#00ffff","#ffff00","#ff0000","#800000"]}}}},
{"transform":[{"filter":"datum.k=='T'||datum.k=='E'"},{"calculate":"[datum.n,datum.n+0.5]","as":"bs"},{"flatten":["bs"],"as":["b"]},{"joinaggregate":[{"op":"distinct","field":"n","as":"c"}],"groupby":["k","b"]},{"filter":"datum.c==2"},{"calculate":"datum.b==datum.n?100-datum.i:datum.i","as":"o"},{"calculate":"datum.b-0.25","as":"w"}],"mark":{"type":"line","strokeWidth":0.6,"interpolate":"catmull-rom"},"encoding":{"detail":[{"field":"k"},{"field":"b"}],"order":{"field":"o","type":"quantitative"},"fill":{"field":"w","type":"quantitative","legend":null,"scale":{"domain":[39.44,41.335,45.125,48.915,52.705,54.6],"range":["#00008f","#0000ff","#00ffff","#ffff00","#ff0000","#800000"]}},"stroke":{"field":"w","type":"quantitative","legend":null,"scale":{"domain":[39.44,41.335,45.125,48.915,52.705,54.6],"range":["#00008f","#0000ff","#00ffff","#ffff00","#ff0000","#800000"]}}}},
{"transform":[{"filter":"datum.k=='V'"}],"mark":{"type":"line","strokeWidth":0.6,"interpolate":"catmull-rom"},"encoding":{"detail":{"field":"p"},"order":{"field":"i","type":"quantitative"},"fill":{"field":"v","type":"quantitative","legend":null,"scale":{"domain":[39.44,41.335,45.125,48.915,52.705,54.6],"range":["#00008f","#0000ff","#00ffff","#ffff00","#ff0000","#800000"]}},"stroke":{"field":"v","type":"quantitative","legend":null,"scale":{"domain":[39.44,41.335,45.125,48.915,52.705,54.6],"range":["#00008f","#0000ff","#00ffff","#ffff00","#ff0000","#800000"]}}}},
{"transform":[{"filter":"datum.k=='cb'"},{"calculate":"datum.by+4.5","as":"y0"},{"calculate":"datum.by-4.5","as":"y1"},{"calculate":"1111","as":"x0"},{"calculate":"1138","as":"x1"}],"mark":{"type":"rect"},"encoding":{"x":{"field":"x0","type":"quantitative"},"x2":{"field":"x1"},"y":{"field":"y0","type":"quantitative"},"y2":{"field":"y1"},"fill":{"field":"v","type":"quantitative","legend":null,"scale":{"domain":[39.44,41.335,45.125,48.915,52.705,54.6],"range":["#00008f","#0000ff","#00ffff","#ffff00","#ff0000","#800000"]}}}},
{"transform":[{"filter":"datum.k=='cbf'"},{"calculate":"613-(datum.v2-39.44)*37.2","as":"y1"},{"calculate":"1111","as":"x0"},{"calculate":"1138","as":"x1"}],"mark":{"type":"rect","filled":false,"stroke":"black","strokeWidth":1},"encoding":{"x":{"field":"x0","type":"quantitative"},"x2":{"field":"x1"},"y":{"field":"by","type":"quantitative"},"y2":{"field":"y1"}}},
{"transform":[{"filter":"datum.k=='cbt'"},{"calculate":"1111","as":"x0"},{"calculate":"1115","as":"x1"}],"mark":{"type":"rule","stroke":"black","strokeWidth":1},"encoding":{"x":{"field":"x0","type":"quantitative"},"x2":{"field":"x1"},"y":{"field":"by","type":"quantitative"}}},
{"transform":[{"filter":"datum.k=='cbt'"},{"calculate":"1134","as":"x0"},{"calculate":"1138","as":"x1"}],"mark":{"type":"rule","stroke":"black","strokeWidth":1},"encoding":{"x":{"field":"x0","type":"quantitative"},"x2":{"field":"x1"},"y":{"field":"by","type":"quantitative"}}},
{"transform":[{"filter":"datum.k=='cbt'"},{"calculate":"1140","as":"x0"}],"mark":{"type":"text","align":"left","baseline":"middle"},"encoding":{"x":{"field":"x0","type":"quantitative"},"y":{"field":"by","type":"quantitative"},"text":{"field":"t"}}}
]}
